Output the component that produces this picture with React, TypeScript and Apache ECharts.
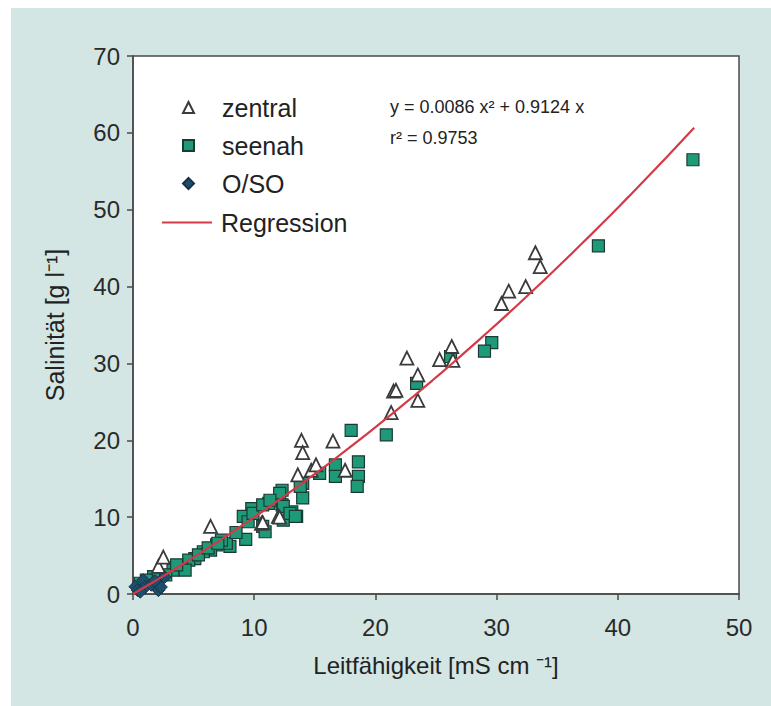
import React, { useEffect, useRef } from "react";
import * as echarts from "echarts";

// zentral (triangles): [Leitfähigkeit, Salinität]
const zentral: number[][] = [
  [2.1, 3.6], [2.5, 4.8], [6.4, 8.8], [10.6, 9.2], [10.7, 9.3], [12.0, 10.1], [12.1, 10.0],
  [13.6, 15.5], [14.7, 16.1], [15.1, 16.8], [13.9, 20.0], [14.0, 18.4], [16.5, 19.9], [17.5, 16.1],
  [21.3, 23.6], [21.5, 26.4], [21.7, 26.5], [22.6, 30.7], [23.5, 28.5], [23.5, 25.2], [25.3, 30.5],
  [26.3, 32.2], [26.4, 30.4], [30.4, 37.8], [31.0, 39.4], [32.4, 40.0], [33.2, 44.4], [33.6, 42.6],
];

// seenah (squares)
const seenah: number[][] = [
  [46.2, 56.5], [38.4, 45.3], [29.6, 32.7], [29.0, 31.6], [26.2, 30.9], [23.4, 27.4],
  [18.0, 21.3], [20.9, 20.7], [18.6, 17.2], [16.7, 16.8], [18.6, 15.3], [16.7, 15.3], [18.5, 14.0],
  [15.4, 15.7], [14.0, 14.4], [14.0, 12.5], [13.8, 14.0], [12.3, 13.5], [12.1, 13.1], [11.2, 11.8],
  [12.3, 11.6], [13.1, 10.7], [13.5, 10.1], [12.4, 9.6], [12.4, 11.4], [12.95, 10.5], [13.4, 10.1],
  [9.8, 11.1], [9.1, 10.1], [10.7, 8.8], [10.9, 8.1], [9.3, 7.1], [9.5, 9.4], [9.9, 10.5],
  [10.7, 11.6], [11.3, 12.2], [8.0, 6.2], [7.7, 6.6], [7.3, 7.0], [6.9, 6.4], [6.4, 5.7],
  [5.8, 5.5], [5.1, 4.6], [4.6, 4.4], [4.0, 3.3], [3.3, 3.1], [4.3, 3.1], [1.7, 2.25], [1.1, 1.8],
  [0.6, 1.4], [2.7, 2.5], [3.6, 3.8], [5.4, 5.1], [6.2, 6.0], [7.0, 6.6], [8.5, 8.0],
];

// O/SO (diamonds)
const oso: number[][] = [
  [0.2, 0.95], [0.4, 0.5], [0.85, 1.8], [1.0, 0.9], [1.5, 1.2], [2.1, 0.5], [2.3, 0.9],
  [0.6, 0.3], [1.8, 1.7], [2.6, 2.2],
];

// Regression y = a x^2 + b x, drawn over the measured range
const regA = 0.0086;
const regB = 0.9124;
const regXMax = 46.3;
const regression: number[][] = [];
for (let i = 0; i <= 60; i++) {
  const x = (regXMax * i) / 60;
  regression.push([x, regA * x * x + regB * x]);
}

const xTicks = { min: 0, max: 50, interval: 10 };
const yTicks = { min: 0, max: 70, interval: 10 };

const FONT = "Liberation Sans, Arial, sans-serif";
const RED = "#d33a46";

export default function App() {
  const ref = useRef<HTMLDivElement>(null);
  useEffect(() => {
    if (!ref.current) return;
    const chart = echarts.init(ref.current, undefined, { renderer: "svg" });
    chart.setOption({
      animation: false,
      textStyle: { fontFamily: FONT },
      grid: {
        left: 133, top: 56, width: 606, height: 538,
        show: true, backgroundColor: "#ffffff", borderColor: "#4a4a4a", borderWidth: 1.5,
      },
      legend: [
        {
          orient: "vertical", left: 182, top: 95, itemWidth: 11, itemHeight: 11, itemGap: 13,
          padding: 0,
          textStyle: { fontSize: 25, color: "#222", fontFamily: FONT, padding: [0, 0, 0, 23] },
          data: ["zentral", "seenah", "O/SO"],
        },
        {
          orient: "vertical", left: 162, top: 210, itemWidth: 50, itemHeight: 2,
          padding: 0,
          textStyle: { fontSize: 25, color: "#222", fontFamily: FONT, padding: [0, 0, 0, 4] },
          data: [{ name: "Regression", icon: "rect", itemStyle: { color: RED } }],
        },
      ],
      xAxis: {
        type: "value", ...xTicks,
        name: "Leitfähigkeit [mS cm ⁻¹]", nameLocation: "middle", nameGap: 59,
        nameTextStyle: { fontSize: 24, color: "#222", fontFamily: FONT },
        axisLine: { show: true, lineStyle: { color: "#4a4a4a", width: 1.5 } },
        axisTick: { show: true, length: 6, lineStyle: { color: "#4a4a4a", width: 1.5 } },
        axisLabel: { fontSize: 24, color: "#2a2a2a", margin: 21, fontFamily: FONT },
        splitLine: { show: false },
      },
      yAxis: {
        type: "value", ...yTicks,
        name: "Salinität [g l⁻¹]", nameLocation: "middle", nameGap: 66,
        nameTextStyle: { fontSize: 25, color: "#222", fontFamily: FONT },
        axisLine: { show: true, lineStyle: { color: "#4a4a4a", width: 1.5 } },
        axisTick: { show: true, length: 6, lineStyle: { color: "#4a4a4a", width: 1.5 } },
        axisLabel: { fontSize: 24, color: "#2a2a2a", margin: 13, fontFamily: FONT },
        splitLine: { show: false },
      },
      graphic: [
        { type: "text", left: 390, top: 98, style: { text: "y = 0.0086 x² + 0.9124 x", fontSize: 18, fill: "#222", fontFamily: FONT } },
        { type: "text", left: 390, top: 129, style: { text: "r² = 0.9753", fontSize: 18, fill: "#222", fontFamily: FONT } },
      ],
      series: [
        {
          name: "seenah", type: "scatter", data: seenah, symbol: "rect", symbolSize: 12, z: 2,
          itemStyle: { color: "#1e9a78", borderColor: "#1b3a33", borderWidth: 1.2, opacity: 1 },
        },
        {
          name: "O/SO", type: "scatter", data: oso, symbol: "diamond", symbolSize: 13, z: 3,
          itemStyle: { color: "#1f4e6a", borderColor: "#15324a", borderWidth: 1, opacity: 1 },
        },
        {
          name: "zentral", type: "scatter", data: zentral, symbol: "triangle", symbolSize: 13, z: 4,
          itemStyle: { color: "#ffffff", borderColor: "#3a3a3a", borderWidth: 1.8, opacity: 1 },
        },
        {
          name: "Regression", type: "line", data: regression, symbol: "none", smooth: false, z: 5,
          lineStyle: { color: RED, width: 2.2 }, itemStyle: { color: RED },
        },
      ],
    });
    return () => chart.dispose();
  }, []);
  return (
    <div style={{ position: "fixed", left: 0, top: 0, width: 771, height: 706, background: "#ffffff" }}>
      <div style={{ position: "absolute", left: 11, top: 8, right: 0, bottom: 0, background: "#d3e6e4" }} />
      <div ref={ref} style={{ position: "absolute", left: 0, top: 0, width: 771, height: 706 }} />
    </div>
  );
}
